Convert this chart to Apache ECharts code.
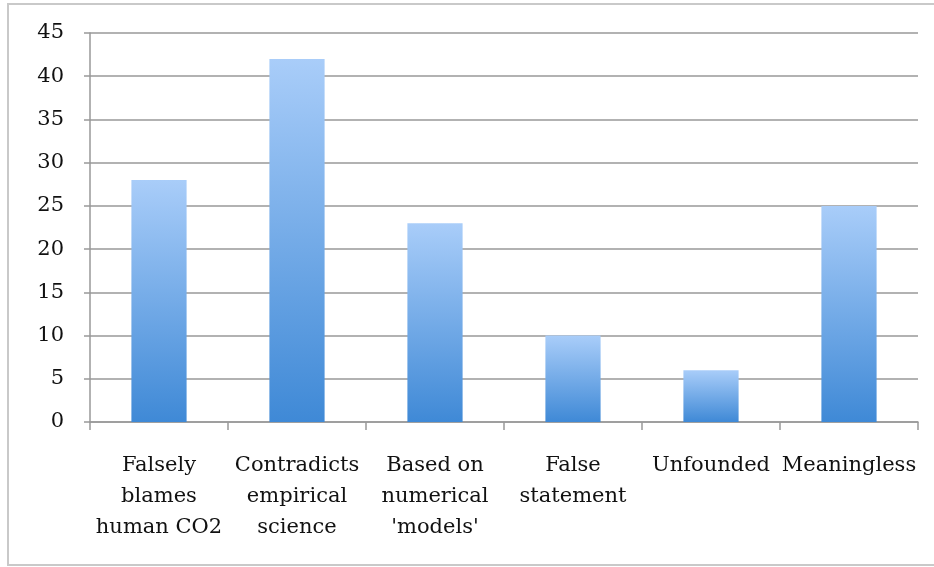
<!DOCTYPE html>
<html><head><meta charset="utf-8">
<script src="https://cdn.jsdelivr.net/npm/echarts@6/dist/echarts.min.js"></script>
<style>
html,body{margin:0;padding:0;background:#fff;overflow:hidden;}
#frame{position:absolute;left:7px;top:3px;width:940px;height:559px;border:2px solid #c9c9c9;}
#chart{position:absolute;left:0;top:0;width:934px;height:567px;}
</style></head>
<body>
<div id="frame"></div>
<div id="chart"></div>
<script>
const categories = ["Falsely\nblames\nhuman CO2", "Contradicts\nempirical\nscience", "Based on\nnumerical\n'models'", "False\nstatement", "Unfounded", "Meaningless"];
const values = [28, 42, 23, 10, 6, 25];
const yTicks = { min: 0, max: 45, interval: 5 };

const chart = echarts.init(document.getElementById('chart'));
const font = "'DejaVu Serif', serif";
chart.setOption({
  animation: false,
  grid: { left: 90, right: 16, top: 33, bottom: 145 },
  xAxis: {
    type: 'category',
    data: categories,
    axisLine: { lineStyle: { color: '#999', width: 1.5 } },
    axisTick: { show: true, length: 8, lineStyle: { color: '#999', width: 1.5 } },
    axisLabel: { color: '#111', fontFamily: font, fontSize: 21, lineHeight: 31, margin: 28, interval: 0 }
  },
  yAxis: {
    type: 'value',
    min: yTicks.min, max: yTicks.max, interval: yTicks.interval,
    axisLine: { show: true, lineStyle: { color: '#999', width: 1.5 } },
    axisTick: { show: true, length: 6, lineStyle: { color: '#999', width: 1.5 } },
    axisLabel: { color: '#111', fontFamily: font, fontSize: 21, margin: 26 },
    splitLine: { lineStyle: { color: '#999', width: 1.5 } }
  },
  series: [{
    type: 'bar',
    data: values,
    barWidth: '40%',
    itemStyle: {
      color: new echarts.graphic.LinearGradient(0, 0, 0, 1, [
        { offset: 0, color: '#a9cdf9' },
        { offset: 1, color: '#3f89d6' }
      ])
    }
  }]
});
</script>
</body></html>
